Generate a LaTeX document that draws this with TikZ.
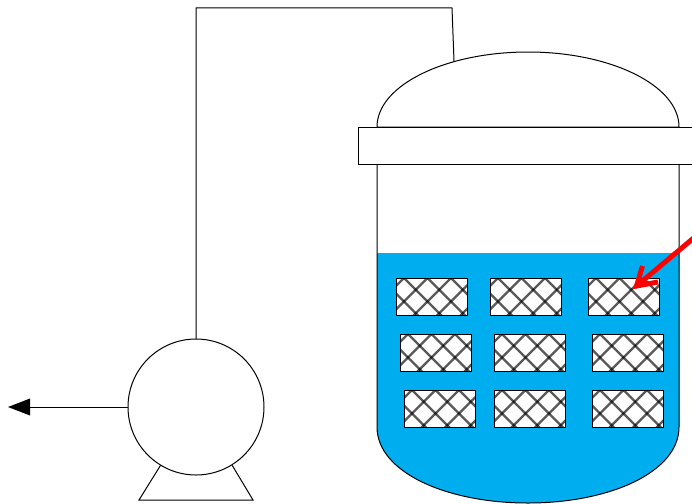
\documentclass[tikz,border=0pt]{standalone}
\definecolor{liquid}{HTML}{00AEEF}
\tikzset{
  x=1pt,y=-1pt,
  thin line/.style={draw=black,line width=1pt},
  hatchbox/.style={thin line,fill=white,rectangle,minimum width=71pt,minimum height=37pt,inner sep=0pt,outer sep=0pt,anchor=north west},
  hatchline/.style={black,opacity=0.65,line width=2.2pt},
  pipeline/.style={thin line},
  pointer/.style={draw=red,line width=5pt,miter limit=10},
}
\begin{document}
\begin{tikzpicture}
\useasboundingbox (0,0) rectangle (692,503);
% liquid
\fill[liquid] (377,253) -- (679,253) -- (679,427) .. controls (679,472) and (610,503) .. (528,503) .. controls (446,503) and (377,472) .. (377,427) -- cycle;
% vessel
\draw[thin line] (377,127) -- (377,427) .. controls (377,472) and (446,503) .. (528,503) .. controls (610,503) and (679,472) .. (679,427) -- (679,127);
\draw[thin line,fill=white] (377,127) .. controls (377,85) and (446,52) .. (528,52) .. controls (610,52) and (679,85) .. (679,127) -- cycle;
\node[thin line,fill=white,rectangle,minimum width=340pt,minimum height=37pt,inner sep=0pt,outer sep=0pt,anchor=north west] (lid) at (358,127) {};
% packing
\foreach \n/\px/\py in {a1/396/278,a2/490/278,a3/588/278,b1/400/334,b2/494/334,b3/592/334,c1/404/390,c2/494/390,c3/592/390}{
  \node[hatchbox] (\n) at (\px,\py) {};
  \begin{scope}
    \clip (\n.north west) rectangle (\n.south east);
    \begin{scope}[shift={(\n.north west)}]
    \foreach \k in {-4,...,8}{
      \draw[hatchline] ({\k*23.5+8},0) -- ++(40,40);
      \draw[hatchline] ({\k*23.5+8},0) -- ++(-40,40);
    }
    \end{scope}
  \end{scope}
  \draw[thin line] (\n.north west) rectangle (\n.south east);
}
% pump
\draw[thin line] (162,463) -- (139,500) -- (253,500) -- (232,465);
\node[thin line,fill=white,circle,minimum size=136pt,inner sep=0pt,outer sep=0pt] (pump) at (196,407) {};
\coordinate (nozzle) at (454,61);
\coordinate (outlet) at (8,407);
\coordinate (headbase) at (30,407);
\draw[pipeline] (pump.north) -- (196,8) -- (452,8) -- (nozzle);
\fill[black] (outlet) -- (30,398.5) -- (30,415.5) -- cycle;
\draw[pipeline] (pump.west) -- (headbase);
% pointer
\coordinate (ptrstart) at (696,236);
\coordinate (ptrvertex) at (636.5,286);
\coordinate (barba) at (642.5,266);
\coordinate (barbb) at (658,282);
\draw[pointer] (ptrstart) -- (ptrvertex);
\draw[pointer] (barba) -- (ptrvertex) -- (barbb);
\end{tikzpicture}
\end{document}
